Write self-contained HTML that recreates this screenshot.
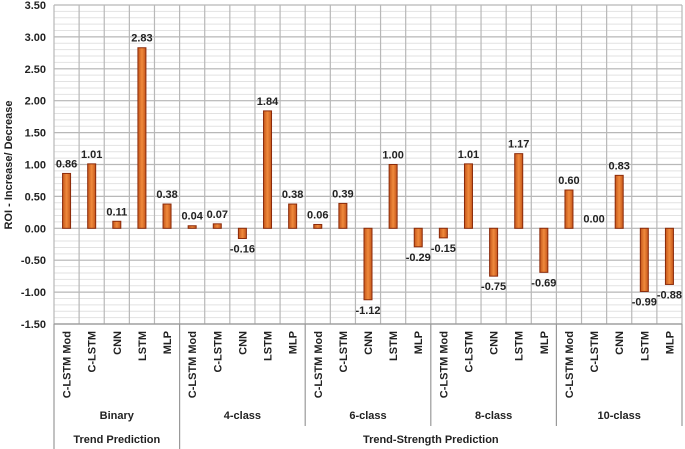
<!DOCTYPE html>
<html><head><meta charset="utf-8"><style>
html,body{margin:0;padding:0;background:#fff;}
svg{display:block;font-family:"Liberation Sans",sans-serif;}
</style></head><body>
<svg id="chart" width="685" height="449" viewBox="0 0 685 449">
<defs><linearGradient id="bg" x1="0" x2="1"><stop offset="0" stop-color="#c4561a"/><stop offset="0.5" stop-color="#f08a3c"/><stop offset="1" stop-color="#c4561a"/></linearGradient></defs>
<g id="grid"></g>
<g id="bars"></g>
<g id="labels"></g>
<g id="axes"></g>
<text transform="translate(12,165) rotate(-90)" text-anchor="middle" font-size="11" font-weight="bold" fill="#222">ROI - Increase/ Decrease</text>
</svg>
<script>
const models = ["C-LSTM Mod","C-LSTM","CNN","LSTM","MLP"];
const groups = ["Binary","4-class","6-class","8-class","10-class"];
const values = [0.86,1.01,0.11,2.83,0.38, 0.04,0.07,-0.16,1.84,0.38, 0.06,0.39,-1.12,1.00,-0.29, -0.15,1.01,-0.75,1.17,-0.69, 0.60,0.00,0.83,-0.99,-0.88];
const yTicks = [3.5,3,2.5,2,1.5,1,0.5,0,-0.5,-1,-1.5];
const NS="http://www.w3.org/2000/svg";
const L=54,R=682,T=5,B=324,yMin=-1.5,yMax=3.5;
const n=values.length, cw=(R-L)/n;
const y=v=>T+(yMax-v)/(yMax-yMin)*(B-T);
const x=i=>L+i*cw;
function mk(tag,parent,attrs,txt){const e=document.createElementNS(NS,tag);for(const k in attrs)e.setAttribute(k,attrs[k]);if(txt!==undefined)e.textContent=txt;document.getElementById(parent).appendChild(e);return e;}
for(let v=yMin;v<=yMax+1e-9;v+=0.1){
  const e=mk('line','grid',{x1:L,x2:R,y1:y(v),y2:y(v),stroke:'#e2e2e2','stroke-width':1});
  
  
}
yTicks.forEach(v=>{
  const e=mk('line','grid',{x1:L,x2:R,y1:y(v),y2:y(v),stroke:'#b8b8b8','stroke-width':1.2});
  
  
  const t=mk('text','axes',{x:L-8,y:y(v)+4,'text-anchor':'end','font-size':11,'font-weight':'bold',fill:'#222'},v.toFixed(2));
  
  
});
for(let i=0;i<=n;i++){
  const e=mk('line','grid',{x1:x(i),x2:x(i),y1:T,y2:B,stroke:'#b8b8b8','stroke-width':1.2});
  
  
}
values.forEach((v,i)=>{
  const cx=x(i)+cw/2, y0=y(0), y1=y(v);
  if(Math.abs(y1-y0)>0.5){
    const r=mk('rect','bars',{x:cx-4,y:Math.min(y0,y1),width:8,height:Math.abs(y1-y0),fill:'url(#bg)',stroke:'#8b2a0a','stroke-width':1});
    
    
  }
  const ty = v>=0 ? y1-6 : y1+14;
  const t=mk('text','labels',{x:cx,y:ty,'text-anchor':'middle','font-size':11,'font-weight':'bold',fill:'#222'},v.toFixed(2));
  
  
  const m=mk('text','axes',{transform:`translate(${cx+4},331) rotate(-90)`,'text-anchor':'end','font-size':11,'font-weight':'bold',fill:'#222'},models[i%5]);
  
  
});
mk('line','axes',{x1:L,x2:R,y1:B,y2:B,stroke:'#999','stroke-width':1.2});
mk('line','axes',{x1:L,x2:L,y1:B,y2:449,stroke:'#999','stroke-width':1.2});
groups.forEach((g,k)=>{
  const x0=x(k*5), x1=x(k*5+5);
  mk('line','axes',{x1:x1,x2:x1,y1:B,y2:k==0?449:426,stroke:'#999','stroke-width':1.2});
  const t=mk('text','axes',{x:(x0+x1)/2,y:419,'text-anchor':'middle','font-size':11,'font-weight':'bold',fill:'#222'},g);
  
  
});
const t1=mk('text','axes',{x:(x(0)+x(5))/2,y:443,'text-anchor':'middle','font-size':11,'font-weight':'bold',fill:'#222'},'Trend Prediction');


const t2=mk('text','axes',{x:(x(5)+x(25))/2,y:443,'text-anchor':'middle','font-size':11,'font-weight':'bold',fill:'#222'},'Trend-Strength Prediction');


</script>
</body></html>
